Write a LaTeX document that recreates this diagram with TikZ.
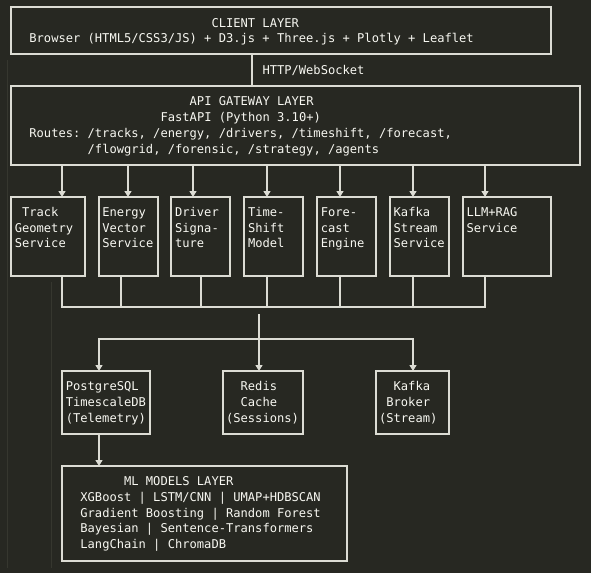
\documentclass[tikz,border=0pt]{standalone}
\usepackage{fontspec}
\setmonofont{DejaVu Sans Mono}
\usetikzlibrary{arrows.meta,positioning,calc}
\definecolor{bgcol}{HTML}{272822}
\definecolor{fgcol}{HTML}{F8F8F2}
\definecolor{linecol}{HTML}{DCDCD4}
\definecolor{guidecol}{HTML}{36372F}

\begin{document}
\begin{tikzpicture}[x=1pt, y=-1pt,
		box/.style={draw=linecol, line width=1.3pt, anchor=north west, inner sep=0pt, outer sep=0pt},
		txt/.style={anchor=base west, inner sep=0pt, text=fgcol, font=\ttfamily\fontsize{12.1}{16}\selectfont},
		link/.style={draw=linecol, line width=1.3pt, line cap=rect},
		arr/.style={link, -{Triangle[width=7pt,length=6pt]}}]
				\fill[bgcol] (0,0) rectangle (591,573);
				\useasboundingbox (0,0) rectangle (591,573);
				% editor guides
				\draw[guidecol, line width=0.8pt] (7.5,60) -- (7.5,568);
				\draw[guidecol, line width=0.8pt] (51.6,282) -- (51.6,568);

				% Client
				\node[box, minimum width=540pt, minimum height=47pt] (client) at (11,7) {};
				\node[txt] (client-1) at (211.3,27.3) {CLIENT LAYER};
				\node[txt] (client-2) at (29.2,42.7) {Browser (HTML5/CSS3/JS) + D3.js + Three.js + Plotly + Leaflet};

				% API gateway
				\node[box, minimum width=569pt, minimum height=79pt] (api) at (11,86) {};
				\coordinate (http) at (252,0);
				\draw[link] (client.south -| http) -- (api.north -| http);
				\node[txt] (httplbl) at (262.3,74.4) {HTTP/WebSocket};
				\foreach \tx/\ln [count=\i] in {189.5/API GATEWAY LAYER, 160.4/FastAPI (Python 3.10+),
					29.2/{Routes: /tracks, /energy, /drivers, /timeshift, /forecast,},
					87.5/{/flowgrid, /forensic, /strategy, /agents}}
					\node[txt] (api-\i) at (\tx,{105.4+15.9*(\i-1)}) {\ln};

				% Services
				\coordinate (bus) at (0,307);
				\foreach \nm/\xa/\xb/\ax/\bx/\tx/\lns in {
					trk/11/85/62/62/14.6/{\ Track,Geometry,Service},
					nrg/99/158/128/121/102.1/{Energy,Vector,Service},
					drv/171/230/193/201/174.9/{Driver,Signa-,ture},
					tsm/244/303/267/267/247.8/{Time-,Shift,Model},
					fcs/317/376/340/340/320.6/{Fore-,cast,Engine},
					kfs/390/449/413/413/393.5/{Kafka,Stream,Service},
					llm/463/551/485/485/466.3/{LLM+RAG,Service}} {
					\node[box, minimum width={(\xb-\xa)*1pt}, minimum height=79pt] (\nm) at (\xa,197) {};
					\coordinate (\nm-in) at (\ax,0);
					\coordinate (\nm-out) at (\bx,0);
					\draw[arr] (api.south -| \nm-in) -- (\nm.north -| \nm-in);
					\draw[link] (\nm.south -| \nm-out) -- (bus -| \nm-out);
					\foreach \ln [count=\i] in \lns
						\node[txt] (\nm-\i) at (\tx,{216.6+15.6*(\i-1)}) {\ln};
				}
				\draw[link] (bus -| trk-out) -- (bus -| llm-out);

				% Storage
				\coordinate (bus2) at (0,339);
				\coordinate (drop) at (259,315);
				\foreach \nm/\xa/\xb/\ax/\tx/\lns in {
					pg/62/150/99/65.6/{PostgreSQL,TimescaleDB,(Telemetry)},
					rds/223/303/259/225.9/{\ \ Redis,\ \ Cache,(Sessions)},
					kfb/376/449/413/378.9/{\ \ Kafka,\ Broker,(Stream)}} {
					\node[box, minimum width={(\xb-\xa)*1pt}, minimum height=63pt] (\nm) at (\xa,371) {};
					\coordinate (\nm-in) at (\ax,0);
					\foreach \ln [count=\i] in \lns
						\node[txt] (\nm-\i) at (\tx,{390.4+15.8*(\i-1)}) {\ln};
				}
				\draw[link] (bus2 -| pg-in) -- (bus2 -| kfb-in);
				\draw[arr] (bus2 -| pg-in) -- (pg.north -| pg-in);
				\draw[arr] (bus2 -| kfb-in) -- (kfb.north -| kfb-in);
				\draw[arr] (drop) -- (rds.north -| drop);

				% ML models
				\node[box, minimum width=285pt, minimum height=95pt] (ml) at (62,466) {};
				\draw[arr] (pg.south -| pg-in) -- (ml.north -| pg-in);
				\foreach \tx/\ln [count=\i] in {123.9/{ML MODELS LAYER},
					80.2/{XGBoost | LSTM/CNN | UMAP+HDBSCAN},
					80.2/{Gradient Boosting | Random Forest},
					80.2/{Bayesian | Sentence-Transformers},
					80.2/{LangChain | ChromaDB}}
					\node[txt] (ml-\i) at (\tx,{485.4+15.8*(\i-1)}) {\ln};
\end{tikzpicture}
\end{document}
